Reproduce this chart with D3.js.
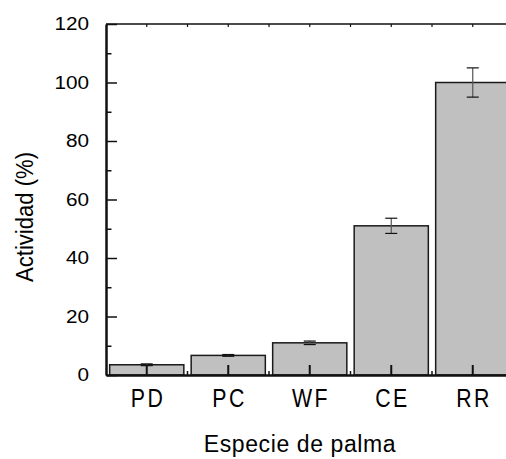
<!DOCTYPE html>
<html>
<head>
<meta charset="utf-8">
<script src="https://cdn.jsdelivr.net/npm/d3@7"></script>
<style>
  html, body { margin: 0; padding: 0; background: #fff; overflow: hidden; }
  svg { display: block; font-family: "Liberation Sans", Arial, sans-serif; }
</style>
</head>
<body>
<svg id="chart" width="506" height="459"></svg>
<script>
// data
const species = ["PD", "PC", "WF", "CE", "RR"];
const activity = [3.5, 6.7, 11.0, 51.0, 100.0];
const activityErr = [0.3, 0.3, 0.6, 2.6, 5.0];
const yMajor = [0, 20, 40, 60, 80, 100, 120];
const yMinor = [10, 30, 50, 70, 90, 110];

const xLabel = "Especie de palma";
const yLabel = "Actividad (%)";

const svg = d3.select("#chart");
const plotL = 106, plotR = 513.5, plotT = 24, plotB = 375;

// glyph width factors, the picture's text is not drawn at its natural width
const tickSX = 1.12, catSX = 0.82, ySY = 0.96;

const x = d3.scaleBand().domain(species).range([plotL, plotR])
  .paddingInner(0.09).paddingOuter(0.045);
const y = d3.scaleLinear().domain([0, 120]).range([plotB, plotT]);

const rows = species.map((s, i) => ({ s, v: activity[i], e: activityErr[i] }));
const mid = s => x(s) + x.bandwidth() / 2;

// bars
svg.append("g").selectAll("rect").data(rows).join("rect")
  .attr("x", d => x(d.s))
  .attr("y", d => y(d.v))
  .attr("width", x.bandwidth())
  .attr("height", d => y(0) - y(d.v))
  .attr("fill", "#c0c0c0")
  .attr("stroke", "#1a1a1a")
  .attr("stroke-width", 1.5);

// error bars
const eb = svg.append("g").selectAll("g").data(rows).join("g");
eb.append("line")
  .attr("x1", d => mid(d.s)).attr("x2", d => mid(d.s))
  .attr("y1", d => y(d.v - d.e)).attr("y2", d => y(d.v + d.e))
  .attr("stroke", "#555").attr("stroke-width", 1.2);
[-1, 1].forEach(sign => {
  eb.append("line")
    .attr("x1", d => mid(d.s) - 6).attr("x2", d => mid(d.s) + 6)
    .attr("y1", d => y(d.v + sign * d.e)).attr("y2", d => y(d.v + sign * d.e))
    .attr("stroke", "#111").attr("stroke-width", 1.2);
});

// top frame line with small ticks at centers and halfway
const halfSteps = species.slice(0, -1).map((s, i) => (mid(s) + mid(species[i + 1])) / 2);
const topTicks = species.map(mid).concat(halfSteps);
svg.append("line").attr("x1", plotL).attr("x2", plotR + 10).attr("y1", plotT).attr("y2", plotT)
  .attr("stroke", "#111").attr("stroke-width", 1.5);
svg.append("g").selectAll("line").data(topTicks).join("line")
  .attr("x1", d => d).attr("x2", d => d).attr("y1", plotT).attr("y2", plotT + 3)
  .attr("stroke", "#111").attr("stroke-width", 1.2);

// y axis
const yAxis = svg.append("g").attr("transform", `translate(${plotL},0)`)
  .call(d3.axisLeft(y).tickValues(yMajor).tickSize(-11).tickSizeOuter(0).tickPadding(17));
yAxis.select(".domain").attr("stroke", "#111").attr("stroke-width", 2.5);
yAxis.selectAll(".tick line").attr("stroke", "#111").attr("stroke-width", 1.5);
yAxis.selectAll(".tick text")
  .attr("x", -17 / tickSX)
  .attr("transform", `scale(${tickSX},1)`)
  .attr("font-size", 18.5).attr("fill", "#000");

const yMinorAxis = svg.append("g").attr("transform", `translate(${plotL},0)`)
  .call(d3.axisLeft(y).tickValues(yMinor).tickSize(-5.5).tickFormat(""));
yMinorAxis.select(".domain").remove();
yMinorAxis.selectAll(".tick line").attr("stroke", "#111").attr("stroke-width", 1.5);

// x axis
const xAxis = svg.append("g").attr("transform", `translate(0,${plotB})`)
  .call(d3.axisBottom(x).tickSize(-10).tickSizeOuter(0));
xAxis.select(".domain").attr("stroke", "#111").attr("stroke-width", 2.5);
xAxis.selectAll(".tick line").attr("stroke", "#111").attr("stroke-width", 2);
xAxis.selectAll(".tick text")
  .attr("y", 32).attr("dy", null)
  .attr("dx", 1.5)
  .attr("letter-spacing", 3)
  .attr("transform", `scale(${catSX},1)`)
  .attr("font-size", 26).attr("fill", "#000");
svg.selectAll(".tick text").attr("font-family", "Liberation Sans, Arial, sans-serif");
svg.selectAll("g[font-family]").attr("font-family", null);

svg.append("g").selectAll("line").data(halfSteps).join("line")
  .attr("x1", d => d).attr("x2", d => d).attr("y1", plotB).attr("y2", plotB - 4)
  .attr("stroke", "#111").attr("stroke-width", 1.5);

// axis titles
svg.append("text")
  .attr("transform", "translate(300,452)")
  .attr("text-anchor", "middle")
  .attr("letter-spacing", 0.6)
  .attr("font-size", 23).attr("fill", "#000")
  .text(xLabel);

svg.append("text")
  .attr("transform", `translate(33,217) rotate(-90) scale(${ySY},1)`)
  .attr("text-anchor", "middle")
  .attr("font-size", 23).attr("fill", "#000")
  .text(yLabel);
</script>
</body>
</html>
